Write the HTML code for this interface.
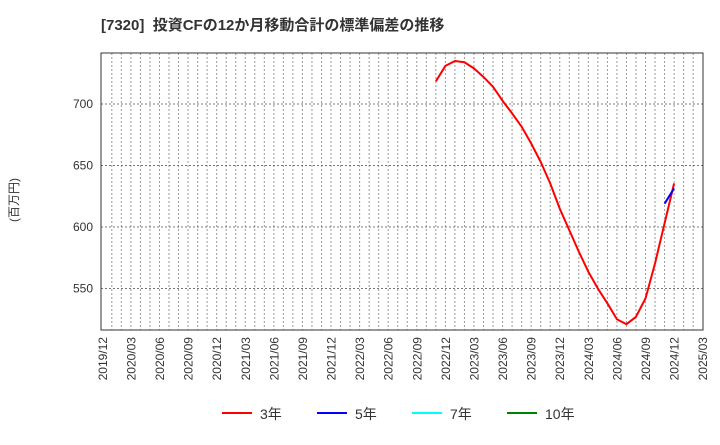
<!DOCTYPE html>
<html><head><meta charset="utf-8"><style>
body{margin:0;background:#fff;}
svg text{font-family:"Liberation Sans","Noto Sans CJK JP",sans-serif;}
</style></head><body>
<svg width="720" height="440" xmlns="http://www.w3.org/2000/svg">
<text x="101" y="30" font-size="15" font-weight="bold" fill="#333" xml:space="preserve">[7320]  投資CFの12か月移動合計の標準偏差の推移</text>
<text transform="translate(18,200) rotate(-90)" font-size="12" fill="#333" text-anchor="middle">(百万円)</text>
<g id="grid"></g><g id="axes"></g><g id="series"></g>
<rect x="101" y="53" width="602" height="277" fill="none" stroke="#333" stroke-width="1"/>
<g id="legend"></g>
</svg>
<script>
const xLabels=["2019/12","2020/03","2020/06","2020/09","2020/12","2021/03","2021/06","2021/09","2021/12","2022/03","2022/06","2022/09","2022/12","2023/03","2023/06","2023/09","2023/12","2024/03","2024/06","2024/09","2024/12","2025/03"];
const yTicks=[550,600,650,700];
const s3Start=35;
const s3Values=[718.5,731,735,734,729,722,714,702.7,692.4,681.6,668,653,635.5,615,597.5,580,563.7,550,538,525,521,527,542,570.5,603,635.5];
const s5Start=59;
const s5Values=[619,631.5];
const NS="http://www.w3.org/2000/svg";
const X0=102.3,STEP=9.53,Y0=330,Y1=53,VMIN=516.3,VMAX=741.5;
const xs=i=>X0+i*STEP;
const ys=v=>Y0-(v-VMIN)/(VMAX-VMIN)*(Y0-Y1);
function mk(t,a,p){const e=document.createElementNS(NS,t);for(const k in a)e.setAttribute(k,a[k]);p.appendChild(e);return e;}
const grid=document.getElementById('grid'),axes=document.getElementById('axes'),ser=document.getElementById('series'),leg=document.getElementById('legend');
for(let m=1;m<63;m++){const l=mk('line',{x1:xs(m),x2:xs(m),y1:Y1,y2:Y0,stroke:'#999','stroke-dasharray':'2,2','stroke-width':1},grid);

}
yTicks.forEach(v=>{const l=mk('line',{x1:101,x2:703,y1:ys(v),y2:ys(v),stroke:'#777','stroke-dasharray':'2,2','stroke-width':1},grid);


const t=mk('text',{x:93,y:ys(v)+4,'font-size':12,'text-anchor':'end',fill:'#333'},axes);t.textContent=v;

});
xLabels.forEach((s,i)=>{const x=xs(i*3);const t=mk('text',{transform:`translate(${x+4.5},337) rotate(-90)`,'font-size':12,'text-anchor':'end',fill:'#333'},axes);t.textContent=s;

});
function line(start,vals,color,name){const p=mk('polyline',{points:vals.map((v,i)=>xs(start+i)+','+ys(v)).join(' '),fill:'none',stroke:color,'stroke-width':2,'stroke-linejoin':'round'},ser);

}
line(s3Start,s3Values,'#ff0000','series-3y');
line(s5Start,s5Values,'#0000ff','series-5y');
const items=[["3年","#ff0000",222],["5年","#0000ff",317],["7年","#00ffff",412],["10年","#008000",507]];
items.forEach(([n,c,x])=>{const g=mk('g',{},leg);


mk('line',{x1:x,x2:x+30,y1:413,y2:413,stroke:c,'stroke-width':2},g);
const t=mk('text',{x:x+38,y:419,'font-size':14,fill:'#333'},g);t.textContent=n;});
</script>
</body></html>
